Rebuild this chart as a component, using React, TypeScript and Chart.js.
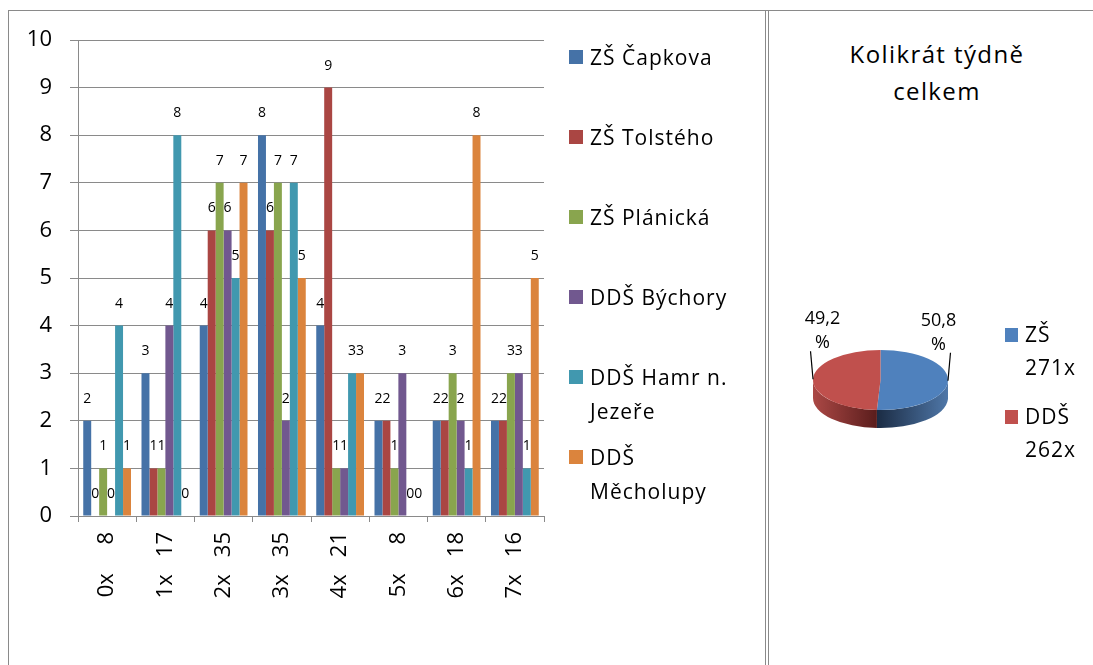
import React, { useEffect, useRef } from 'react';
import { Chart, registerables } from 'chart.js';

Chart.register(...registerables);

// ---------- data ----------
const frequencies = ['0x', '1x', '2x', '3x', '4x', '5x', '6x', '7x'];
const respondentCounts = [8, 17, 35, 35, 21, 8, 18, 16];

const seriesNames = ['ZŠ Čapkova', 'ZŠ Tolstého', 'ZŠ Plánická', 'DDŠ Býchory', 'DDŠ Hamr n. Jezeře', 'DDŠ Měcholupy'];
const capkova = [2, 3, 4, 8, 4, 2, 2, 2];
const tolsteho = [0, 1, 6, 6, 9, 2, 2, 2];
const planicka = [1, 1, 7, 7, 1, 1, 3, 3];
const bychory = [0, 4, 6, 2, 1, 3, 2, 3];
const hamr = [4, 8, 5, 7, 3, 0, 1, 1];
const mecholupy = [1, 0, 7, 5, 3, 0, 8, 5];
const seriesValues = [capkova, tolsteho, planicka, bychory, hamr, mecholupy];
const seriesColors = ['#4572A7', '#AA4643', '#89A54E', '#71588F', '#4198AF', '#DB843D'];

const yMin = 0;
const yMax = 10;
const yStep = 1;

const pieTitle = ['Kolikrát týdně', 'celkem'];
const pieLabels = ['ZŠ', 'DDŠ'];
const pieValues = [271, 262];
const pieColors = ['#4F81BD', '#C0504D'];
const pieSideColors = [
  ['#4f77a8', '#1b2c44'],
  ['#ab4845', '#5a1d1c'],
];

const FONT = '"Open Sans", sans-serif';
const GRID = '#8a8a8a';

// ---------- plugins ----------
const barValueLabels = {
  id: 'barValueLabels',
  afterDatasetsDraw(chart: any) {
    const ctx = chart.ctx;
    ctx.save();
    ctx.font = `14px ${FONT}`;
    ctx.fillStyle = '#000';
    ctx.textAlign = 'center';
    ctx.textBaseline = 'middle';
    chart.data.datasets.forEach((ds: any, di: number) => {
      const meta = chart.getDatasetMeta(di);
      meta.data.forEach((el: any, i: number) => {
        ctx.fillText(String(ds.data[i]), el.x, el.y - 22);
      });
    });
    ctx.restore();
  },
};

const SQUASH = 0.445;
const DEPTH = 18;

const pie3d = {
  id: 'pie3d',
  beforeDatasetsDraw(chart: any) {
    const meta = chart.getDatasetMeta(0);
    const arcs = meta.data;
    const ctx = chart.ctx;
    ctx.save();
    if (!arcs.length) return;
    const { x: cx, y: cy, outerRadius: r } = arcs[0];
    ctx.translate(cx, cy);
    ctx.scale(1, SQUASH);
    ctx.translate(-cx, -cy);
    const d = DEPTH / SQUASH;
    arcs.forEach((arc: any, i: number) => {
      const s = Math.max(arc.startAngle, 0);
      const e = Math.min(arc.endAngle, Math.PI);
      if (e <= s) return;
      const xs = cx + r * Math.cos(s);
      const xe = cx + r * Math.cos(e);
      const outer = Math.abs(xs - cx) > Math.abs(xe - cx) ? xs : xe;
      const inner = outer === xs ? xe : xs;
      const g = ctx.createLinearGradient(outer, 0, inner, 0);
      g.addColorStop(0, pieSideColors[i][0]);
      g.addColorStop(1, pieSideColors[i][1]);
      ctx.beginPath();
      ctx.arc(cx, cy, r, s, e);
      ctx.lineTo(cx + r * Math.cos(e), cy + d + r * Math.sin(e));
      ctx.arc(cx, cy + d, r, e, s, true);
      ctx.closePath();
      ctx.fillStyle = g;
      ctx.fill();
    });
  },
  afterDatasetsDraw(chart: any) {
    chart.ctx.restore();
  },
  afterDraw(chart: any) {
    const meta = chart.getDatasetMeta(0);
    const arcs = meta.data;
    if (!arcs.length) return;
    const ctx = chart.ctx;
    const data = chart.data.datasets[0].data as number[];
    const total = data.reduce((a, b) => a + b, 0);
    ctx.save();
    ctx.font = `18px ${FONT}`;
    ctx.fillStyle = '#000';
    ctx.strokeStyle = '#000';
    ctx.lineWidth = 1.2;
    ctx.textAlign = 'center';
    ctx.textBaseline = 'middle';
    arcs.forEach((arc: any, i: number) => {
      const mid = (arc.startAngle + arc.endAngle) / 2;
      const sign = Math.cos(mid) >= 0 ? 1 : -1;
      const px = arc.x + arc.outerRadius * Math.cos(mid);
      const py = arc.y + arc.outerRadius * SQUASH * Math.sin(mid);
      const tx = px + 2.5 * sign;
      const ty = py - 28;
      ctx.beginPath();
      ctx.moveTo(px, py);
      ctx.lineTo(tx, ty);
      ctx.stroke();
      const pct = ((data[i] / total) * 100).toFixed(1).replace('.', ',');
      const lx = tx - sign * 12;
      ctx.fillText(pct, lx, ty - 32);
      ctx.fillText('%', lx, ty - 8);
    });
    ctx.restore();
  },
};

// ---------- component ----------
export default function App() {
  const barRef = useRef<HTMLCanvasElement>(null);
  const pieRef = useRef<HTMLCanvasElement>(null);

  useEffect(() => {
    const bar = new Chart(barRef.current as HTMLCanvasElement, {
      type: 'bar',
      data: {
        labels: frequencies,
        datasets: seriesNames.map((name, i) => ({
          label: name,
          data: seriesValues[i],
          backgroundColor: seriesColors[i],
          borderWidth: 0,
          categoryPercentage: 0.82,
          barPercentage: 1.0,
        })),
      },
      options: {
        responsive: false,
        animation: false,
        layout: { padding: { left: 0, top: 40, right: 216, bottom: 0 } },
        plugins: { legend: { display: false }, tooltip: { enabled: false } },
        scales: {
          x: {
            grid: {
              offset: true,
              drawOnChartArea: false,
              drawTicks: true,
              tickLength: 6,
              color: GRID,
            },
            border: { display: true, color: GRID, width: 1 },
            ticks: {
              minRotation: 90,
              maxRotation: 90,
              padding: 10,
              color: '#000',
              font: { family: FONT, size: 22 },
              callback: (_v: any, i: number) =>
                `${frequencies[i]}${'\u00A0'.repeat(respondentCounts[i] < 10 ? 5 : 3)}${respondentCounts[i]}`,
            },
            afterFit: (scale: any) => {
              scale.height = 149;
            },
          },
          y: {
            min: yMin,
            max: yMax,
            ticks: {
              stepSize: yStep,
              padding: 18,
              color: '#000',
              font: { family: FONT, size: 22 },
            },
            grid: { color: GRID, tickLength: 8, lineWidth: 1 },
            border: { display: true, color: GRID, width: 1 },
            afterFit: (scale: any) => {
              scale.width = 78;
            },
          },
        },
      },
      plugins: [barValueLabels],
    });

    const pie = new Chart(pieRef.current as HTMLCanvasElement, {
      type: 'pie',
      data: {
        labels: pieLabels,
        datasets: [
          {
            data: pieValues,
            backgroundColor: pieColors,
            borderWidth: 0,
          },
        ],
      },
      options: {
        responsive: false,
        animation: false,
        layout: { padding: { left: 44, right: 145, top: 301.5, bottom: 217.5 } },
        plugins: { legend: { display: false }, tooltip: { enabled: false } },
      },
      plugins: [pie3d],
    });

    return () => {
      bar.destroy();
      pie.destroy();
    };
  }, []);

  const textStyle: React.CSSProperties = {
    fontFamily: FONT,
    color: '#000',
    letterSpacing: '1px',
  };

  return (
    <div
      style={{
        position: 'fixed',
        left: 0,
        top: 0,
        width: 1093,
        height: 665,
        background: '#fff',
        overflow: 'hidden',
      }}
    >
      {/* frame lines */}
      <div style={{ position: 'absolute', left: 8, top: 10, width: 1085, height: 1, background: GRID }} />
      <div style={{ position: 'absolute', left: 8, top: 10, width: 1, height: 655, background: GRID }} />
      <div style={{ position: 'absolute', left: 765, top: 10, width: 1, height: 655, background: GRID }} />
      <div style={{ position: 'absolute', left: 768, top: 10, width: 1, height: 655, background: GRID }} />

      <canvas
        ref={barRef}
        width={760}
        height={665}
        style={{ position: 'absolute', left: 0, top: 0, width: 760, height: 665 }}
      />

      {/* bar legend */}
      {seriesNames.map((name, i) => (
        <div
          key={name}
          style={{ position: 'absolute', left: 569, top: 57 + 80 * i - 17, display: 'flex', alignItems: 'flex-start' }}
        >
          <div
            style={{
              width: 14,
              height: 14,
              marginTop: 10,
              background: seriesColors[i],
              flex: 'none',
            }}
          />
          <div style={{ ...textStyle, marginLeft: 7, width: 152, fontSize: 21, lineHeight: '34px' }}>{name}</div>
        </div>
      ))}

      {/* pie title */}
      <div
        style={{
          ...textStyle,
          position: 'absolute',
          left: 827,
          top: 35,
          width: 220,
          textAlign: 'center',
          fontSize: 24,
          lineHeight: '37px',
          letterSpacing: '1.4px',
        }}
      >
        {pieTitle.map((t) => (
          <div key={t}>{t}</div>
        ))}
      </div>

      <canvas
        ref={pieRef}
        width={324}
        height={654}
        style={{ position: 'absolute', left: 769, top: 11, width: 324, height: 654 }}
      />

      {/* pie legend */}
      {pieLabels.map((name, i) => (
        <div
          key={name}
          style={{ position: 'absolute', left: 1005, top: 335 + 82 * i - 17, display: 'flex', alignItems: 'flex-start' }}
        >
          <div style={{ width: 13, height: 14, marginTop: 10, background: pieColors[i], flex: 'none' }} />
          <div style={{ ...textStyle, marginLeft: 7, fontSize: 21, lineHeight: '33px' }}>
            <div>{name}</div>
            <div>{pieValues[i]}x</div>
          </div>
        </div>
      ))}
    </div>
  );
}
